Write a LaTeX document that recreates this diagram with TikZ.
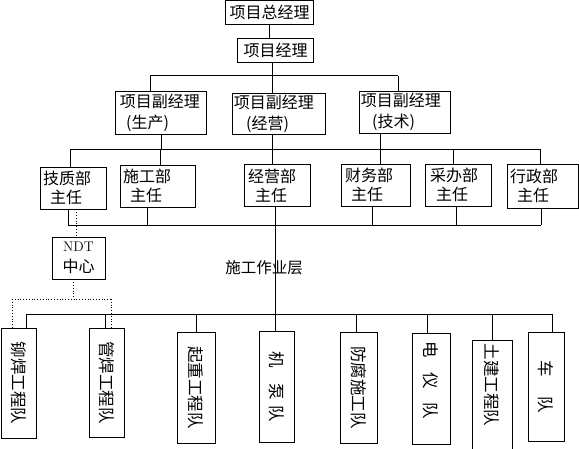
\documentclass[tikz,border=0pt]{standalone}
\usepackage{fontspec}
\newfontfamily\cjk{Noto Sans CJK SC}
\begin{document}
\begin{tikzpicture}[x=1pt,y=-1pt,
  box/.style={draw, line width=0.8pt, inner sep=0pt, font=\cjk\fontsize{16}{19}\selectfont},
  dep/.style={box, align=left, inner ysep=0pt},
  dpt/.style={dep, font=\cjk\fontsize{16}{21}\selectfont},
  vbox/.style={box, font=\cjk\fontsize{16.5}{19}\selectfont},
  ln/.style={line width=0.8pt},
  dl/.style={line width=0.8pt, dotted}]
\useasboundingbox (0,0) rectangle (579,449);
% top
\node[box, minimum width=88.4pt, minimum height=23.8pt] (gm) at (269.5,12.4) {项目总经理};
\node[box, minimum width=76.4pt, minimum height=24pt] (pm) at (275.5,50.3) {项目经理};
% deputies
\node[dpt, text width=82.4pt, inner xsep=4.5pt, minimum height=43.3pt] (d1) at (161,112.7) {项目副经理\\\hspace*{6.3pt}(生产)};
\node[dpt, text width=90pt, inner xsep=1.5pt, minimum height=41pt] (d2) at (278.8,113.8) {项目副经理\\\hspace*{12.4pt}(经营)};
\node[dpt, text width=87.7pt, inner xsep=1.5pt, minimum height=42.3pt] (d3) at (404.7,112.2) {项目副经理\\\hspace*{11.3pt}(技术)};
% departments
\node[dep, text width=60pt, inner xsep=3pt, minimum height=42pt] (k1) at (73,188) {技质部\\\hspace*{7pt}主任};
\node[dep, text width=69pt, inner xsep=3pt, minimum height=42pt] (k2) at (157.5,186) {施工部\\\hspace*{7pt}主任};
\node[dep, text width=58pt, inner xsep=4pt, minimum height=42pt] (k3) at (277,185.5) {经营部\\\hspace*{7pt}主任};
\node[dep, text width=61pt, inner xsep=4pt, minimum height=42pt] (k4) at (375.5,185) {财务部\\\hspace*{6pt}主任};
\node[dep, text width=56pt, inner xsep=5pt, minimum height=42pt] (k5) at (458,185) {采办部\\\hspace*{6pt}主任};
\node[dep, text width=65.5pt, inner xsep=3pt, minimum height=44pt] (k6) at (542.75,186) {行政部\\\hspace*{7pt}主任};
% NDT
\node[box, align=center, font=\fontsize{14}{21}\selectfont, minimum width=53pt, minimum height=42pt] (ndt) at (78.5,258) {NDT\\{\cjk\fontsize{16}{19}\selectfont 中心}};
\node[font=\cjk\fontsize{15.5}{19}\selectfont, inner sep=0pt] (layer) at (264,268) {施工作业层};
% teams
\node[vbox, minimum width=35pt, minimum height=110pt] (t1) at (18.5,383) {\rotatebox{-90}{铆焊工程队}};
\node[vbox, minimum width=35pt, minimum height=109pt] (t2) at (106.5,382.5) {\rotatebox{-90}{管焊工程队}};
\node[vbox, minimum width=38pt, minimum height=111pt] (t3) at (196,387.5) {\rotatebox{-90}{起重工程队}};
\node[vbox, minimum width=35pt, minimum height=111pt] (t4) at (276.5,386.5) {\rotatebox{-90}{机\hspace{16pt}泵\hspace{5pt}队}};
\node[vbox, minimum width=37pt, minimum height=111pt] (t5) at (358.5,387.5) {\rotatebox{-90}{防腐施工队}};
\node[vbox, minimum width=38pt, minimum height=111pt] (t6) at (431,388.5) {\rotatebox{-90}{电\hspace{14pt}仪\hspace{14pt}队\hspace{16pt}}};
\node[vbox, minimum width=40pt, minimum height=120pt] (t7) at (492,400) {\rotatebox{-90}{土建工程队\hspace{30pt}}};
\node[vbox, minimum width=36pt, minimum height=109pt] (t8) at (546,386.5) {\rotatebox{-90}{车\hspace{20pt}队}};
% bus coordinates
\coordinate (a1) at (150,75.7); \coordinate (a2) at (272,75.7); \coordinate (a3) at (398.3,75.7);
\coordinate (bL) at (70,149.3); \coordinate (bR) at (540.7,149.3);
\coordinate (cL) at (68,225); \coordinate (cR) at (541,225);
\coordinate (eL) at (26,314); \coordinate (eR) at (552,314);
\coordinate (p1) at (12,299); \coordinate (p2) at (111,299);
\coordinate (m2) at (275,225);
% connectors
\draw[ln] (gm.south) -- (gm.south |- pm.north);
\draw[ln] (pm.south -| a2) -- (a2);
\draw[ln] (a1) -- (a3);
\draw[ln] (a1) -- (a1 |- d1.north);
\draw[ln] (a2) -- (a2 |- d2.north);
\draw[ln] (a3) -- (a3 |- d3.north);
\draw[ln] (bL) -- (bR);
\draw[ln] (d1.south) -- (d1.south |- bL);
\draw[ln] (d2.south -| a2) -- (a2 |- bL);
\draw[ln] (d3.south -| 380.7,0) -- (380.7,149.3);
\draw[ln] (bL) -- (bL |- k1.north);
\draw[ln] (160,149.3) -- (k2.north -| 160,0);
\draw[ln] (a2 |- bL) -- (a2 |- k3.north);
\draw[ln] (380,149.3) -- (k4.north -| 380,0);
\draw[ln] (453.5,149.3) -- (k5.north -| 453.5,0);
\draw[ln] (bR) -- (bR |- k6.north);
\draw[ln] (cL) -- (cR);
\draw[ln] (k1.south -| cL) -- (cL);
\draw[ln] (k2.south -| 147,0) -- (147,225);
\draw[ln] (k4.south -| 372,0) -- (372,225);
\draw[ln] (k5.south -| 456,0) -- (456,225);
\draw[ln] (k6.south -| cR) -- (cR);
\draw[ln] (m2 |- k3.south) -- (m2 |- t4.north);
\draw[ln] (eL) -- (eR);
\draw[ln] (eL) -- (eL |- t1.north);
\draw[ln] (105,314) -- (t2.north -| 105,0);
\draw[ln] (196,314) -- (t3.north);
\draw[ln] (356,314) -- (t5.north -| 356,0);
\draw[ln] (427,314) -- (t6.north -| 427,0);
\draw[ln] (492,314) -- (t7.north);
\draw[ln] (eR) -- (eR |- t8.north);
% dotted
\draw[dl] (k1.south -| 76,0) -- (ndt.north -| 76,0);
\draw[dl] (ndt.south -| 73,0) -- (73,299);
\draw[dl] (p1) -- (p2);
\draw[dl] (p1) -- (p1 |- t1.north);
\draw[dl] (p2) -- (p2 |- t2.north);
\end{tikzpicture}
\end{document}
